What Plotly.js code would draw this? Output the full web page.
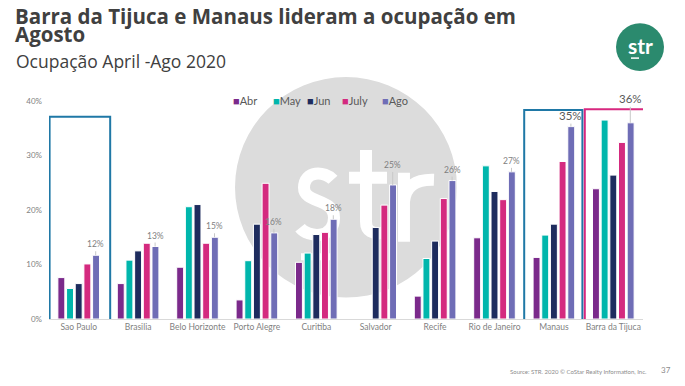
<!DOCTYPE html>
<html>
<head>
<meta charset="utf-8">
<script src="https://cdn.plot.ly/plotly-3.0.1.min.js"></script>
<style>html,body{margin:0;padding:0;background:#fff;}#chart{width:685px;height:386px;}</style>
</head>
<body>
<div id="chart"></div>
<script>
// ---- data ----
const categories = ["Sao Paulo","Brasilia","Belo Horizonte","Porto Alegre","Curitiba","Salvador","Recife","Rio de Janeiro","Manaus","Barra da Tijuca"];
const seriesNames = ["Abr","May","Jun","July","Ago"];
const abr  = [7.6, 6.5, 9.5, 3.5, 10.4, null, 4.2, 14.9, 11.3, 23.9];
const may  = [5.6, 10.8, 20.6, 10.7, 12.1, null, 11.1, 28.1, 15.4, 36.5];
const jun  = [6.5, 12.5, 21.0, 17.4, 15.5, 16.8, 14.3, 23.4, 17.4, 26.4];
const july = [10.1, 13.9, 13.9, 24.9, 15.9, 20.9, 22.1, 21.9, 28.9, 32.4];
const ago  = [11.7, 13.3, 15.0, 15.8, 18.3, 24.6, 25.4, 27.0, 35.3, 36.0];
const agoLabels = ["12%","13%","15%","16%","18%","25%","26%","27%","35%","36%"];
const yTicks = [0, 10, 20, 30, 40];
const yTickText = ["0%","10%","20%","30%","40%"];

// ---- styles ----
const FONT = 'Lato, "Open Sans", sans-serif';
const TFONT = '"Open Sans", Lato, sans-serif';
const colors = ["#7B2A8B", "#00B6AC", "#1E2C5E", "#D42A7F", "#6F6DB6"];
const series = [abr, may, jun, july, ago];
const labelOffsets = [-4, -4, -4, -4, -4, -13, -4, -4, -3, -16];
const labelBig = [false,false,false,false,false,false,false,false,true,true];
const legendPx = [231, 271, 305, 340, 380];

// plot area in pixels (for decorative drawings)
const PL = 49, PR = 643, PT = 101, PB = 319.5;
const fx = px => (px - PL) / (PR - PL);
const fy = py => (PB - py) / (PB - PT);
function toPaperPath(cmds) {
  return cmds.map(c => {
    const out = [];
    for (let k = 1; k < c.length; k += 2) out.push(fx(c[k]).toFixed(4) + ',' + fy(c[k+1]).toFixed(4));
    return c[0] + out.join(' ');
  }).join(' ');
}

const traces = series.map((vals, i) => ({
  type: 'bar',
  name: seriesNames[i],
  x: categories,
  y: vals,
  marker: {color: colors[i], line: {color: '#ffffff', width: 1}},
  hoverinfo: 'skip',
  showlegend: false
}));

const annotations = categories.map((c, i) => ({
  x: c, y: ago[i], xref: 'x', yref: 'y',
  text: agoLabels[i],
  xshift: 17,
  showarrow: true, arrowhead: 0, arrowwidth: 1, arrowcolor: '#c8c8c8',
  ax: 0, ay: labelOffsets[i], standoff: 0,
  yanchor: 'bottom',
  font: labelBig[i] ? {family: FONT, size: 11.5, color: '#595959'}
                    : {family: FONT, size: 8.5, color: '#7f7f7f'}
}));

// legend entries
seriesNames.forEach((n, i) => annotations.push({
  xref:'paper', yref:'paper', x:fx(legendPx[i]), y:fy(100), xanchor:'left', yanchor:'middle', showarrow:false,
  text:'<span style="color:' + colors[i] + '">■</span>' + n,
  font:{family: FONT, size: 11, color:'#595959'}
}));

annotations.push(
  {xref:'paper', yref:'paper', x:fx(14), y:fy(1), xanchor:'left', yanchor:'top', align:'left', showarrow:false,
   borderpad:0, text:'<b>Barra da Tijuca e Manaus lideram a ocupação em</b>',
   font:{family: TFONT, size:20.5, color:'#404040'}},
  {xref:'paper', yref:'paper', x:fx(14), y:fy(19), xanchor:'left', yanchor:'top', align:'left', showarrow:false,
   borderpad:0, text:'<b>Agosto</b>',
   font:{family: TFONT, size:20.5, color:'#404040'}},
  {xref:'paper', yref:'paper', x:fx(14), y:fy(47), xanchor:'left', yanchor:'top', showarrow:false,
   text:'Ocupação April -Ago 2020',
   font:{family: TFONT, size:17.5, color:'#404040'}},
  {xref:'paper', yref:'paper', x:fx(640), y:fy(45), xanchor:'center', yanchor:'middle', showarrow:false,
   text:'<b>str</b>', font:{family: FONT, size:21, color:'#ffffff'}},
  {xref:'paper', yref:'paper', x:fx(649), y:fy(372), xanchor:'right', yanchor:'middle', showarrow:false,
   text:'Source: STR. 2020 © CoStar Realty Information, Inc.',
   font:{family: FONT, size:6, color:'#8c8c8c'}},
  {xref:'paper', yref:'paper', x:fx(659), y:fy(371), xanchor:'left', yanchor:'middle', showarrow:false,
   text:'37', font:{family: FONT, size:8, color:'#8c8c8c'}}
);

const wm = {color:'#ffffff', width:12};
const shapes = [
  {type:'circle', xref:'paper', yref:'paper', x0:fx(235), x1:fx(457), y0:fy(298), y1:fy(77),
   fillcolor:'#dcdcdc', line:{width:0}, layer:'below'},
  {type:'path', xref:'paper', yref:'paper', layer:'below', line:wm,
   path: toPaperPath([['M',333,180],['C',325,171, 304,170, 304,188],['C',304,204, 334,198, 334,218],['C',334,240, 308,238, 300,228]])},
  {type:'path', xref:'paper', yref:'paper', layer:'below', line:wm,
   path: toPaperPath([['M',366,150],['L',366,222],['Q',366,236, 384,233]])},
  {type:'path', xref:'paper', yref:'paper', layer:'below', line:wm,
   path: toPaperPath([['M',349,178],['L',387,178]])},
  {type:'path', xref:'paper', yref:'paper', layer:'below', line:wm,
   path: toPaperPath([['M',404,173],['L',404,242]])},
  {type:'path', xref:'paper', yref:'paper', layer:'below', line:wm,
   path: toPaperPath([['M',404,202],['Q',406,179, 434,180]])},
  {type:'path', xref:'paper', yref:'paper', layer:'below', line:{color:'#ffffff', width:7},
   path: toPaperPath([['M',301,257],['L',336,257]])},
  {type:'circle', xref:'paper', yref:'paper', x0:fx(616), x1:fx(664), y0:fy(71), y1:fy(23),
   fillcolor:'#2B8A6E', line:{width:0}},
  {type:'line', xref:'paper', yref:'paper', x0:fx(631), x1:fx(639), y0:fy(58), y1:fy(58),
   line:{color:'#ffffff', width:1.5}},
  {type:'rect', xref:'x', yref:'y', x0:-0.49, x1:0.53, y0:-5.95, y1:37.1,
   line:{color:'#1F78A6', width:2}, fillcolor:'rgba(0,0,0,0)'},
  {type:'rect', xref:'x', yref:'y', x0:7.5, x1:8.48, y0:-5.95, y1:38.35,
   line:{color:'#1F78A6', width:2}, fillcolor:'rgba(0,0,0,0)'},
  {type:'rect', xref:'x', yref:'y', x0:8.52, x1:9.6, y0:-5.45, y1:38.5,
   line:{color:'#D8287F', width:2}, fillcolor:'rgba(0,0,0,0)'}
];

const layout = {
  width: 685, height: 386,
  margin: {l: PL, r: 685 - PR, t: PT, b: 386 - PB},
  paper_bgcolor: '#ffffff', plot_bgcolor: 'rgba(0,0,0,0)',
  barmode: 'group', bargap: 0.27, bargroupgap: 0.2,
  showlegend: false,
  xaxis: {type: 'category', range: [-0.5, 9.5], showgrid: false, showline: true,
          linecolor: '#d9d9d9', linewidth: 1, ticks: '', fixedrange: true,
          tickfont: {family: FONT, size: 8.5, color: '#7f7f7f'}},
  yaxis: {range: [0, 40], tickmode: 'array', tickvals: yTicks, ticktext: yTickText, showgrid: false,
          zeroline: false, showline: false, ticks: '', ticklabelstandoff: 6,
          tickfont: {family: FONT, size: 8, color: '#7f7f7f'}},
  annotations: annotations,
  shapes: shapes,
  font: {family: FONT}
};

Plotly.newPlot('chart', traces, layout, {displayModeBar: false, staticPlot: true});
</script>
</body>
</html>
